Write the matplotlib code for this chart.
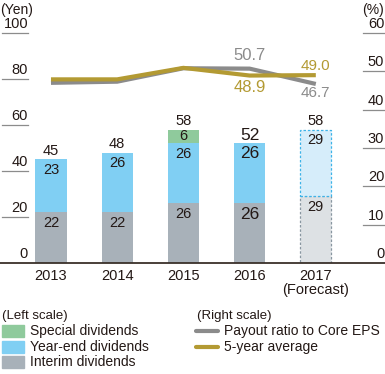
import matplotlib.pyplot as plt
import matplotlib.transforms as mtransforms
from matplotlib.patches import Rectangle
from matplotlib.lines import Line2D

plt.rcParams['font.family'] = ['Liberation Sans', 'DejaVu Sans']

years = ["2013", "2014", "2015", "2016", "2017\n(Forecast)"]
interim = [22, 22, 26, 26, 29]
year_end = [23, 26, 26, 26, 29]
special = [0, 0, 6, 0, 0]
totals = [45, 48, 58, 52, 58]
payout = [47.0, 47.3, 50.8, 50.7, 46.7]
avg5 = [47.9, 47.9, 50.9, 48.9, 49.0]
left_ticks = [0, 20, 40, 60, 80, 100]
right_ticks = [0, 10, 20, 30, 40, 50, 60]

C_INT = "#a8b1b9"
C_YE = "#80cff3"
C_SP = "#8fca9c"
C_INT_F = "#dde1e4"
C_YE_F = "#d6edfa"
C_PAY = "#8b8b8b"
C_AVG = "#b39a33"
TXT = "#231815"

fig = plt.figure(figsize=(3.85, 3.74), dpi=100)
ax = fig.add_axes([0, 0.2968, 1, 0.615])
ax.set_xlim(-0.77, 5.045)
ax.set_ylim(0, 100)
for s in ["top", "left", "right"]:
    ax.spines[s].set_visible(False)
ax.spines["bottom"].set_color("#3a302a")
ax.spines["bottom"].set_linewidth(1.3)
ax.set_yticks([])
ax.set_xticks(range(len(years)))
ax.set_xticklabels(years, fontsize=10.5, color=TXT, linespacing=1.05)
ax.tick_params(axis="x", length=0, pad=4)

x = list(range(len(years)))
w = 0.47
n = len(years)
for i in range(n):
    fc = i == n - 1
    if fc:
        ax.bar(i, interim[i], w, color=C_INT_F, edgecolor="#8896a0", linestyle=(0, (2, 1.5)), linewidth=0.9)
        ax.bar(i, year_end[i], w, bottom=interim[i], color=C_YE_F, edgecolor="#3db3e8", linestyle=(0, (2, 1.5)), linewidth=0.9)
    else:
        ax.bar(i, interim[i], w, color=C_INT)
        ax.bar(i, year_end[i], w, bottom=interim[i], color=C_YE)
        if special[i]:
            ax.bar(i, special[i], w, bottom=interim[i] + year_end[i], color=C_SP)

# value labels
for i in range(n):
    fs = 12.5 if i == 3 else 10.5
    ax.text(i, interim[i] - 4.8, str(interim[i]), ha="center", va="center", fontsize=fs, color=TXT)
    top_ye = interim[i] + year_end[i]
    ax.text(i, top_ye - 4.6, str(year_end[i]), ha="center", va="center", fontsize=fs, color=TXT)
    if special[i]:
        ax.text(i, top_ye + special[i] / 2, str(special[i]), ha="center", va="center", fontsize=fs, color=TXT)
    ax.text(i, totals[i] + 3.6, str(totals[i]), ha="center", va="center", fontsize=fs, color=TXT)

# left scale labels
tr = mtransforms.blended_transform_factory(ax.transAxes, ax.transData)
for t in left_ticks:
    ax.text(0.073, t + 0.8, str(t), transform=tr, ha="right", va="bottom", fontsize=10.5, color=TXT)
    if t:
        ax.add_line(Line2D([0.004, 0.073], [t, t], transform=tr, color="#8c8c8c", lw=0.9, clip_on=False))
ax.text(0.0, 100 + 7, "(Yen)", transform=tr, ha="left", va="bottom", fontsize=10, color=TXT, clip_on=False)

ax2 = ax.twinx()
ax2.set_ylim(0, 60)
ax2.set_yticks([])
for s in ["top", "left", "right", "bottom"]:
    ax2.spines[s].set_visible(False)
ax2.plot(x, payout, color=C_PAY, lw=3, solid_capstyle="butt", solid_joinstyle="miter")
ax2.plot(x, avg5, color=C_AVG, lw=3, solid_capstyle="butt", solid_joinstyle="miter")

tr2 = mtransforms.blended_transform_factory(ax2.transAxes, ax2.transData)
for t in right_ticks:
    ax2.text(0.998, t + 0.5, str(t), transform=tr2, ha="right", va="bottom", fontsize=10.5, color=TXT)
    if t:
        ax2.add_line(Line2D([0.943, 1.0], [t, t], transform=tr2, color="#8c8c8c", lw=0.9, clip_on=False))
ax2.text(0.998, 60 + 4.2, "(%)", transform=tr2, ha="right", va="bottom", fontsize=10, color=TXT, clip_on=False)

# line value labels
ax2.text(3, payout[3] + 3.3, f"{payout[3]:.1f}", ha="center", va="center", fontsize=12, color=C_PAY)
ax2.text(3, avg5[3] - 3.2, f"{avg5[3]:.1f}", ha="center", va="center", fontsize=12, color=C_AVG)
ax2.text(4, avg5[4] + 2.4, f"{avg5[4]:.1f}", ha="center", va="center", fontsize=11, color=C_AVG)
ax2.text(4, payout[4] - 2.4, f"{payout[4]:.1f}", ha="center", va="center", fontsize=11, color=C_PAY)

# legend
fig.text(2 / 385, 1 - 316 / 374, "(Left scale)", ha="left", va="center", fontsize=9.5, color=TXT)
fig.text(197 / 385, 1 - 316 / 374, "(Right scale)", ha="left", va="center", fontsize=9.5, color=TXT)
left_items = [("Special dividends", C_SP), ("Year-end dividends", C_YE), ("Interim dividends", C_INT)]
for k, (lab, col) in enumerate(left_items):
    yc = 331 + 15.7 * k
    fig.patches.append(Rectangle((2 / 385, 1 - (yc + 6) / 374), 22 / 385, 12 / 374,
                                 transform=fig.transFigure, color=col))
    fig.text(30 / 385, 1 - yc / 374, lab, ha="left", va="center", fontsize=10, color=TXT)
right_items = [("Payout ratio to Core EPS", C_PAY), ("5-year average", C_AVG)]
for k, (lab, col) in enumerate(right_items):
    yc = 331 + 15.7 * k
    fig.add_artist(Line2D([196 / 385, 218 / 385], [1 - yc / 374, 1 - yc / 374],
                          transform=fig.transFigure, color=col, lw=3, solid_capstyle="round"))
    fig.text(224 / 385, 1 - yc / 374, lab, ha="left", va="center", fontsize=10, color=TXT)

fig.savefig("out.png", dpi=100)
